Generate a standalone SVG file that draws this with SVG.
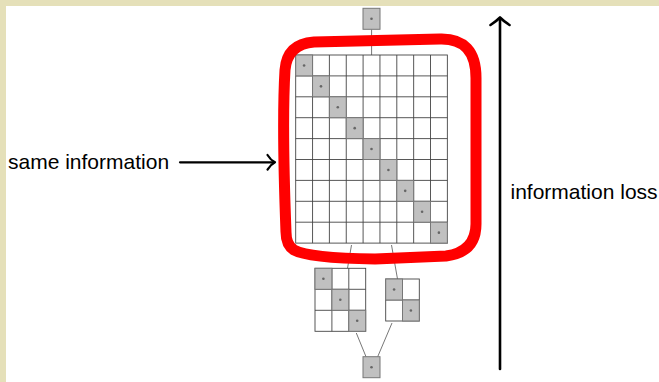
<svg xmlns="http://www.w3.org/2000/svg" width="659" height="382" viewBox="0 0 659 382">
<style>
.lbl{font-family:"Liberation Sans",Arial,sans-serif;font-size:21px;fill:#000}
.diag{fill:#c0c0c0;stroke:#777;stroke-width:1}
.dot{fill:#666}
.conn{stroke:#777;stroke-width:1;fill:none}
.arrow{stroke:#000;fill:none;stroke-linecap:round;stroke-linejoin:round}
.grid{stroke:#444;stroke-width:0.9;fill:none}
</style>
<rect width="659" height="382" fill="#fff"/>
<rect x="0" y="0" width="659" height="6" fill="#e5e0b9"/>
<rect x="0" y="0" width="6" height="382" fill="#e5e0b9"/>

<g id="connectors">
<line class="conn" x1="371.6" y1="29.3" x2="371.6" y2="55"/>
<line class="conn" x1="351.5" y1="245" x2="347.5" y2="268.3"/>
<line class="conn" x1="391.5" y1="245" x2="397.5" y2="279"/>
<line class="conn" x1="356.3" y1="333" x2="366" y2="356.7"/>
<line class="conn" x1="392" y1="323" x2="377.7" y2="356.7"/>
</g>

<g id="top-box">
<rect class="diag" x="363" y="8.3" width="17" height="21"/>
<circle class="dot" cx="371.5" cy="18.8" r="1.3"/>
</g>

<g id="big-matrix">
<g class="grid">
<rect x="295.7" y="55" width="151.65" height="188.1" fill="#fff"/>
<path d="M312.55,55V243.1M329.4,55V243.1M346.25,55V243.1M363.1,55V243.1M379.95,55V243.1M396.8,55V243.1M413.65,55V243.1M430.5,55V243.1"/>
<path d="M295.7,75.9H447.35M295.7,96.8H447.35M295.7,117.7H447.35M295.7,138.6H447.35M295.7,159.5H447.35M295.7,180.4H447.35M295.7,201.3H447.35M295.7,222.2H447.35"/>
</g>
<rect class="diag" x="295.7" y="55" width="16.85" height="20.9"/>
<rect class="diag" x="312.55" y="75.9" width="16.85" height="20.9"/>
<rect class="diag" x="329.4" y="96.8" width="16.85" height="20.9"/>
<rect class="diag" x="346.25" y="117.7" width="16.85" height="20.9"/>
<rect class="diag" x="363.1" y="138.6" width="16.85" height="20.9"/>
<rect class="diag" x="379.95" y="159.5" width="16.85" height="20.9"/>
<rect class="diag" x="396.8" y="180.4" width="16.85" height="20.9"/>
<rect class="diag" x="413.65" y="201.3" width="16.85" height="20.9"/>
<rect class="diag" x="430.5" y="222.2" width="16.85" height="20.9"/>
<circle class="dot" cx="304.1" cy="65.45" r="1.3"/>
<circle class="dot" cx="321" cy="86.35" r="1.3"/>
<circle class="dot" cx="337.8" cy="107.25" r="1.3"/>
<circle class="dot" cx="354.7" cy="128.15" r="1.3"/>
<circle class="dot" cx="371.5" cy="149.05" r="1.3"/>
<circle class="dot" cx="388.4" cy="169.95" r="1.3"/>
<circle class="dot" cx="405.2" cy="190.85" r="1.3"/>
<circle class="dot" cx="422.1" cy="211.75" r="1.3"/>
<circle class="dot" cx="438.9" cy="232.65" r="1.3"/>
</g>

<g id="matrix-3x3">
<g class="grid">
<rect x="315" y="268.3" width="50.7" height="63" fill="#fff"/>
<path d="M331.9,268.3V331.3M348.8,268.3V331.3M315,289.3H365.7M315,310.3H365.7"/>
</g>
<rect class="diag" x="315" y="268.3" width="16.9" height="21"/>
<rect class="diag" x="331.9" y="289.3" width="16.9" height="21"/>
<rect class="diag" x="348.8" y="310.3" width="16.9" height="21"/>
<circle class="dot" cx="323.4" cy="278.8" r="1.3"/>
<circle class="dot" cx="340.3" cy="299.8" r="1.3"/>
<circle class="dot" cx="357.2" cy="320.8" r="1.3"/>
</g>

<g id="matrix-2x2">
<g class="grid">
<rect x="385.7" y="279" width="33.6" height="42" fill="#fff"/>
<path d="M402.5,279V321M385.7,300H419.3"/>
</g>
<rect class="diag" x="385.7" y="279" width="16.8" height="21"/>
<rect class="diag" x="402.5" y="300" width="16.8" height="21"/>
<circle class="dot" cx="394.1" cy="289.5" r="1.3"/>
<circle class="dot" cx="410.9" cy="310.5" r="1.3"/>
</g>

<g id="bottom-box">
<rect class="diag" x="363" y="356.7" width="17" height="21"/>
<circle class="dot" cx="371.5" cy="367.2" r="1.3"/>
</g>

<g id="red-outline">
<path d="M286,232 C284,180 282,120 285,70 Q287,44 314,42 L440,39 Q476,38 476,78 L476,224 Q476,252 446,256 L375,259 Q308,258 294,250 Q286,245 286,232 Z" fill="none" stroke="#ff0000" stroke-width="11" stroke-linejoin="round"/>
</g>

<g id="same-information">
<text class="lbl" x="8" y="168.5">same information</text>
<line class="arrow" x1="180" y1="162.3" x2="274" y2="162.3" stroke-width="2.2"/>
<path class="arrow" d="M267.5,155 Q270.5,160 275,162.3 Q270.5,164.6 267.5,169.6" stroke-width="2.2"/>
</g>

<g id="information-loss">
<line class="arrow" x1="500" y1="369" x2="500" y2="18.5" stroke-width="2.6"/>
<path class="arrow" d="M490.5,25 Q496,21.5 500,17.5 Q504,21.5 509.5,25" stroke-width="2.6"/>
<text class="lbl" x="510.5" y="198.5">information loss</text>
</g>
</svg>
